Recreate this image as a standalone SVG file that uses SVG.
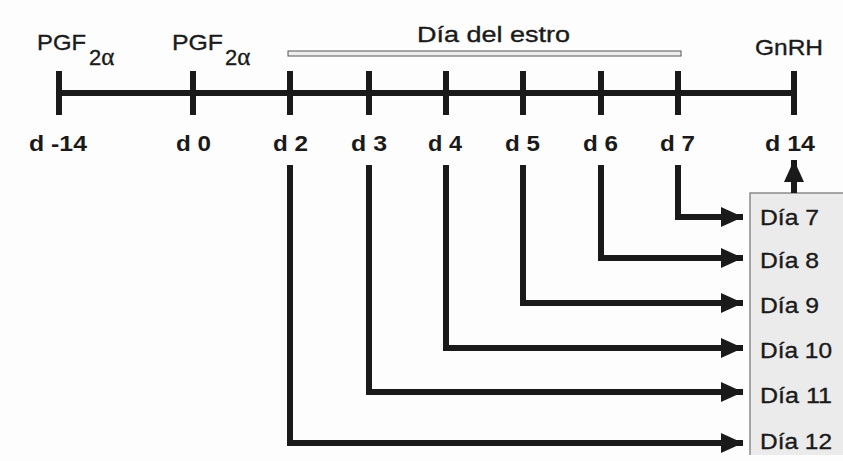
<svg xmlns="http://www.w3.org/2000/svg" width="843" height="461" viewBox="0 0 843 461">
<defs>
<style>
.t{font-family:"Liberation Sans",Arial,sans-serif;fill:#1a1a1a;font-size:22px;stroke:#1a1a1a;stroke-width:0.35}
.b{font-weight:bold;font-size:22px;stroke-width:0}
.ln{stroke:#1a1a1a;stroke-width:6;fill:none}
.ah{fill:#1a1a1a}
.al{font-family:"Liberation Serif","Times New Roman",serif}
</style>
<marker id="arr" markerUnits="userSpaceOnUse" markerWidth="24" markerHeight="22" refX="22" refY="10" orient="auto"><path d="M0,0 L22,10 L0,20 Z" class="ah"/></marker>
</defs>
<rect x="0" y="0" width="843" height="461" fill="#fdfdfd"/>
<g id="estro-box">
<rect x="750" y="193" width="93" height="262" fill="#ebebeb"/>
<path d="M750,455V193H843" fill="none" stroke="#8a8a8a" stroke-width="1.5"/>
<text class="t" x="760" y="225" textLength="59" lengthAdjust="spacingAndGlyphs">Día 7</text>
<text class="t" x="760" y="268" textLength="59" lengthAdjust="spacingAndGlyphs">Día 8</text>
<text class="t" x="760" y="313" textLength="59" lengthAdjust="spacingAndGlyphs">Día 9</text>
<text class="t" x="760" y="358" textLength="72" lengthAdjust="spacingAndGlyphs">Día 10</text>
<text class="t" x="760" y="403" textLength="72" lengthAdjust="spacingAndGlyphs">Día 11</text>
<text class="t" x="760" y="449" textLength="72" lengthAdjust="spacingAndGlyphs">Día 12</text>
</g>
<g id="timeline">
<line class="ln" x1="59" y1="93" x2="794" y2="93"/>
<path class="ln" d="M59,71V115M193,71V115M290,71V115M369,71V115M446,71V115M523,71V115M601,71V115M678,71V115M794,71V115"/>
</g>
<g id="estro-bar">
<rect x="288" y="51" width="393" height="5" fill="#eeeeee" stroke="#555" stroke-width="1"/>
<text class="t" x="417" y="42" textLength="153" lengthAdjust="spacingAndGlyphs">Día del estro</text>
</g>
<g id="labels-top">
<text class="t" x="37" y="50" font-size="23" textLength="49" lengthAdjust="spacingAndGlyphs">PGF</text>
<text class="t" x="89" y="65" font-size="22">2<tspan class="al" font-size="25">α</tspan></text>
<text class="t" x="172" y="50" font-size="23" textLength="51" lengthAdjust="spacingAndGlyphs">PGF</text>
<text class="t" x="225" y="65" font-size="22">2<tspan class="al" font-size="25">α</tspan></text>
<text class="t" x="755" y="55" textLength="68" lengthAdjust="spacingAndGlyphs">GnRH</text>
</g>
<g id="labels-days">
<text class="t b" x="29" y="151" textLength="58" lengthAdjust="spacingAndGlyphs">d -14</text>
<text class="t b" x="176" y="151" textLength="35" lengthAdjust="spacingAndGlyphs">d 0</text>
<text class="t b" x="273" y="151" textLength="35" lengthAdjust="spacingAndGlyphs">d 2</text>
<text class="t b" x="351" y="151" textLength="36" lengthAdjust="spacingAndGlyphs">d 3</text>
<text class="t b" x="428" y="151" textLength="34" lengthAdjust="spacingAndGlyphs">d 4</text>
<text class="t b" x="505" y="151" textLength="35" lengthAdjust="spacingAndGlyphs">d 5</text>
<text class="t b" x="583" y="151" textLength="35" lengthAdjust="spacingAndGlyphs">d 6</text>
<text class="t b" x="660" y="151" textLength="35" lengthAdjust="spacingAndGlyphs">d 7</text>
<text class="t b" x="765" y="151" textLength="50" lengthAdjust="spacingAndGlyphs">d 14</text>
</g>
<g id="connectors">
<path class="ln" d="M678,165V217H743" marker-end="url(#arr)"/>
<path class="ln" d="M601,165V258H743" marker-end="url(#arr)"/>
<path class="ln" d="M523,165V303H743" marker-end="url(#arr)"/>
<path class="ln" d="M446,165V348H743" marker-end="url(#arr)"/>
<path class="ln" d="M369,165V392H743" marker-end="url(#arr)"/>
<path class="ln" d="M290,165V443H743" marker-end="url(#arr)"/>
<path class="ln" d="M794,193V160" marker-end="url(#arr)"/>
</g>
</svg>
